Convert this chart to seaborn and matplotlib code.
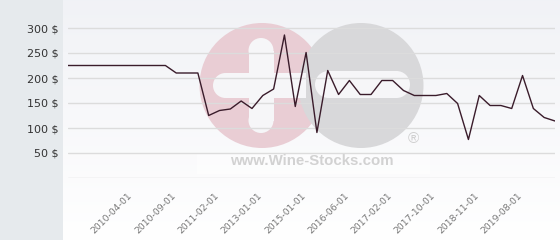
import numpy as np
import matplotlib
matplotlib.use("Agg")
import matplotlib.pyplot as plt
from matplotlib.patches import Circle, Rectangle
from matplotlib.transforms import ScaledTranslation
import seaborn as sns

# ---- data ----
prices = [225, 225, 225, 225, 225, 225, 225, 225, 225, 225,
          210, 210, 210, 125, 135, 138, 154, 139, 165, 178,
          286, 143, 251, 91, 215, 167, 195, 167, 167, 195,
          195, 175, 165, 165, 165, 169, 149, 77, 165, 145,
          145, 139, 205, 139, 121, 114]
tick_labels = ["2010-04-01", "2010-09-01", "2011-02-01", "2013-01-01",
               "2015-01-01", "2016-06-01", "2017-02-01", "2017-10-01",
               "2018-11-01", "2019-08-01"]
y_ticks = [0, 50, 100, 150, 200, 250, 300]

sns.set_theme(style="white")
plt.rcParams['font.family'] = ['DejaVu Sans']

W, H = 560, 240
fig = plt.figure(figsize=(W / 100, H / 100), dpi=100)
fig.patch.set_facecolor("white")

# ---- background axes in pixel units ----
bg = fig.add_axes([0, 0, 1, 1], zorder=0)
bg.set_xlim(0, W)
bg.set_ylim(H, 0)
bg.axis("off")
grad = np.linspace(0, 1, 256).reshape(-1, 1)
top_c = np.array([0.945, 0.950, 0.965])
bot_c = np.array([1.0, 1.0, 1.0])
img = top_c[None, None, :] * (1 - grad[:, :, None]) + bot_c[None, None, :] * grad[:, :, None]
bg.imshow(img, extent=[63, W, H, 0], aspect="auto", zorder=0)
bg.add_patch(Rectangle((0, 0), 63, H, facecolor="#e6eaed", edgecolor="none", zorder=1))

# watermark
bg.add_patch(Circle((262, 85.5), 62.5, facecolor="#e9cdd4", edgecolor="none", zorder=2))
bg.add_patch(Circle((361, 85.5), 62.5, facecolor="#d8d8da", edgecolor="none", zorder=3))
wc = "#f6f6f8"
shapes = [
    Rectangle((248.5, 50.5), 25, 70), Circle((261, 50.5), 12.5), Circle((261, 120.5), 12.5),
    Rectangle((225.5, 73), 80, 25), Circle((225.5, 85.5), 12.5),
    Rectangle((328.5, 71), 68, 27), Circle((328.5, 84.5), 13.5), Circle((396.5, 84.5), 13.5),
]
for p in shapes:
    p.set_facecolor(wc)
    p.set_edgecolor("none")
    p.set_zorder(4)
    bg.add_patch(p)
bg.add_patch(Rectangle((197, 153), 233, 21, facecolor="white", alpha=0.6,
                       edgecolor="none", zorder=4))
bg.text(312, 161, "www.Wine-Stocks.com", ha="center", va="center",
        fontsize=10.8, fontweight="bold", color="#d2d2d2",
        family="Liberation Sans", zorder=5)
bg.text(413, 139, "\u00ae", ha="center", va="center", fontsize=11,
        color="#cfcfcf", family="Liberation Sans", zorder=5)

# ---- main chart ----
left, right, bottom_px, top_px = 68, 555, 178, 3
ax = fig.add_axes([left / W, (H - bottom_px) / H, (right - left) / W,
                   (bottom_px - top_px) / H], zorder=2)
ax.patch.set_alpha(0)

x = np.arange(len(prices))
sns.lineplot(x=x, y=prices, ax=ax, color="#3a1c2b", linewidth=1.0)

ax.set_xlim(0, len(prices) - 1)
ax.set_ylim(0, 350)
ax.set_yticks(y_ticks)
ax.set_yticklabels(["" if v == 0 else f"{v} $" for v in y_ticks])
ax.yaxis.grid(True, color="#dcdcdc", linewidth=1.0)
ax.xaxis.grid(False)
for s in ax.spines.values():
    s.set_visible(False)

first, step = 6, 4
ax.set_xticks([first + step * i for i in range(len(tick_labels))])
ax.set_xticklabels(tick_labels, rotation=45, ha="right", va="center",
                   rotation_mode="anchor")
ax.tick_params(axis="x", length=0, pad=12, labelsize=6.7, labelcolor="#777777")
ax.tick_params(axis="y", length=0, pad=7, labelsize=8, labelcolor="#333333")
off = ScaledTranslation(-2 / 100, 0, fig.dpi_scale_trans)
for lab in ax.get_xticklabels():
    lab.set_transform(lab.get_transform() + off)
ax.set_xlabel("")
ax.set_ylabel("")

fig.savefig("out.png", dpi=100)
